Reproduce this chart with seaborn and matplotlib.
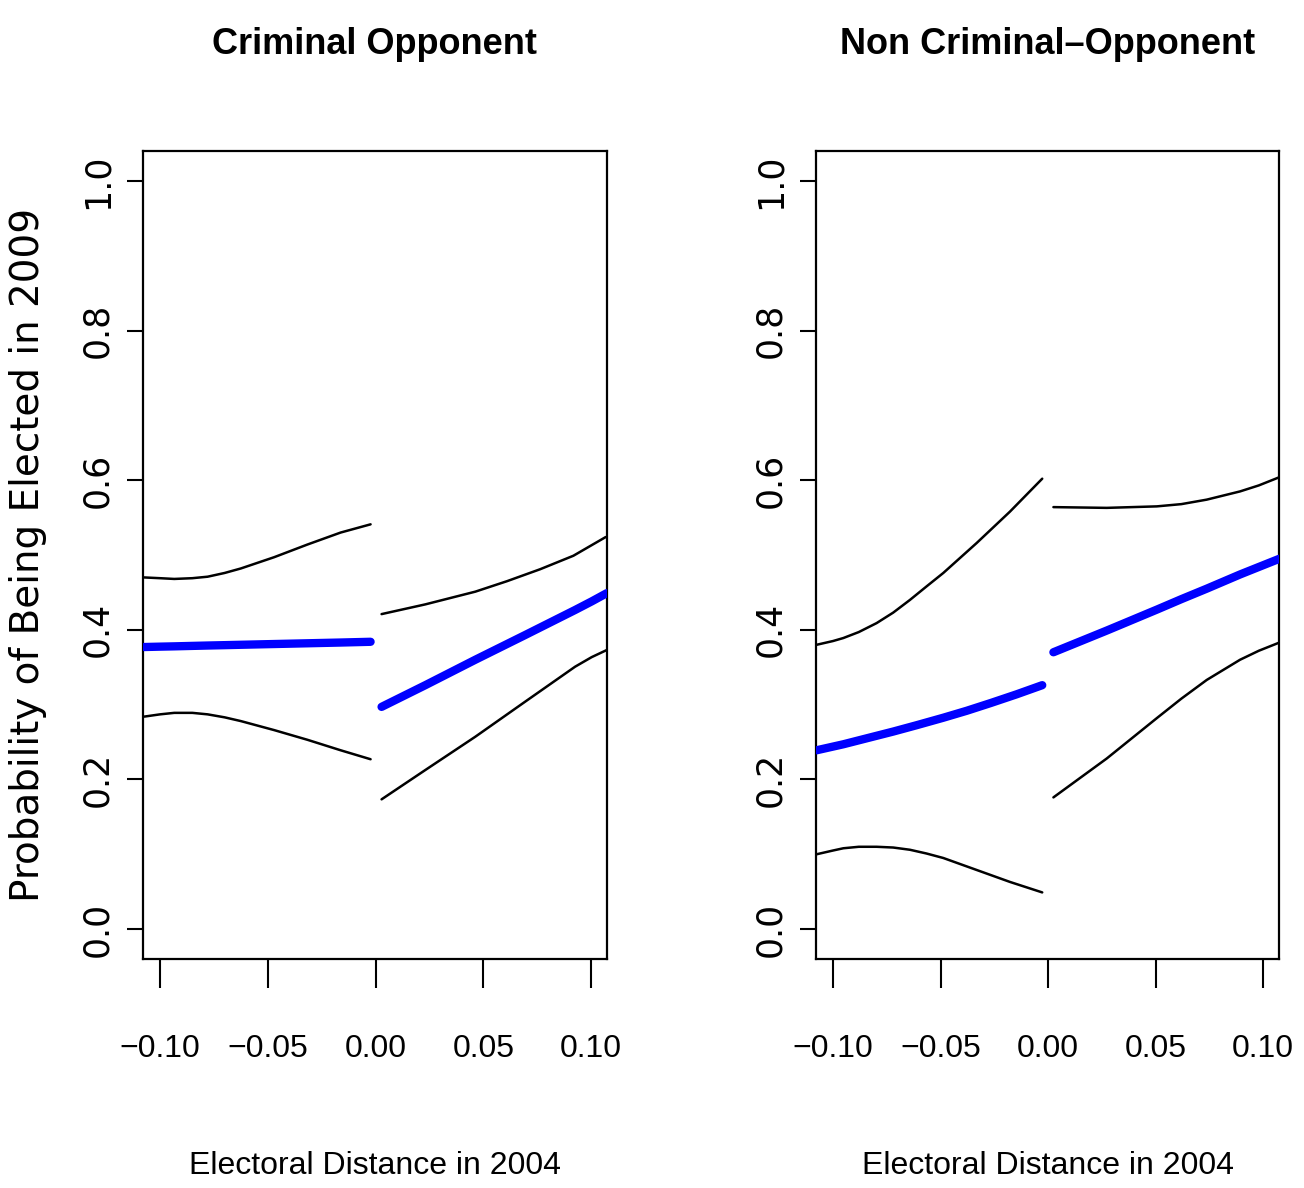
import numpy as np
import pandas as pd
import matplotlib as mpl
import matplotlib.pyplot as plt
import seaborn as sns

# ---- values ----
# Criminal opponent, left of the threshold
crim_x_below = [-0.1073, -0.1000, -0.0934, -0.0850, -0.0779, -0.0700,
                -0.0625, -0.0471, -0.0316, -0.0162, -0.0023]
crim_fit_below = [0.3770, 0.3775, 0.3779, 0.3785, 0.3790, 0.3795,
                  0.3800, 0.3810, 0.3820, 0.3830, 0.3840]
crim_hi_below = [0.470, 0.469, 0.468, 0.469, 0.471, 0.476,
                 0.482, 0.497, 0.514, 0.530, 0.541]
crim_lo_below = [0.284, 0.287, 0.289, 0.289, 0.287, 0.283,
                 0.278, 0.266, 0.253, 0.239, 0.227]
# Criminal opponent, right of the threshold
crim_x_above = [0.0028, 0.0231, 0.0463, 0.0694, 0.0926, 0.1003, 0.1073]
crim_fit_above = [0.297, 0.326, 0.360, 0.393, 0.4265, 0.438, 0.449]
crim_lo_above = [0.1734, 0.2126, 0.2571, 0.3039, 0.3507, 0.3635, 0.3730]
crim_x_above_hi = [0.0028, 0.0231, 0.0463, 0.0610, 0.0764, 0.0918, 0.1068]
crim_hi_above = [0.421, 0.434, 0.451, 0.465, 0.481, 0.499, 0.524]

# Non criminal opponent, left of the threshold
nc_x_below = [-0.1076, -0.1000, -0.0952, -0.0880, -0.0797, -0.0720,
              -0.0642, -0.0565, -0.0487, -0.0332, -0.0177, -0.0027]
nc_hi_below = [0.380, 0.385, 0.389, 0.397, 0.409, 0.423,
               0.440, 0.458, 0.476, 0.516, 0.558, 0.602]
nc_lo_below = [0.100, 0.105, 0.108, 0.110, 0.110, 0.109,
               0.106, 0.101, 0.095, 0.079, 0.063, 0.049]
nc_x_below_fit = [-0.1076, -0.0952, -0.0843, -0.0720, -0.0611,
                  -0.0487, -0.0378, -0.0266, -0.0146, -0.0027]
nc_fit_below = [0.239, 0.247, 0.255, 0.264, 0.2725,
                0.2825, 0.2918, 0.3022, 0.3138, 0.326]
# Non criminal opponent, right of the threshold
nc_x_above = [0.0025, 0.0273, 0.0506, 0.0620, 0.0738, 0.0893, 0.0980, 0.1076]
nc_fit_above = [0.370, 0.399, 0.427, 0.441, 0.455, 0.474, 0.484, 0.495]
nc_hi_above = [0.564, 0.563, 0.565, 0.568, 0.574, 0.585, 0.593, 0.604]
nc_lo_above = [0.176, 0.228, 0.282, 0.308, 0.333, 0.360, 0.372, 0.383]

titles = ["Criminal Opponent", "Non Criminal\u2013Opponent"]
x_ticks = [-0.10, -0.05, 0.00, 0.05, 0.10]
x_ticklabels = ["\u22120.10", "\u22120.05", "0.00", "0.05", "0.10"]
y_ticks = [0.0, 0.2, 0.4, 0.6, 0.8, 1.0]
y_ticklabels = ["0.0", "0.2", "0.4", "0.6", "0.8", "1.0"]

sns.set_theme(style="ticks")
narrow = ['Liberation Sans', 'DejaVu Sans']
wide = ['DejaVu Sans']
plt.rcParams['font.family'] = narrow
for key in ["text.color", "axes.labelcolor", "xtick.color", "ytick.color"]:
    plt.rcParams[key] = "black"

fig = plt.figure(figsize=(13.04, 11.88), dpi=100)
W, H = 1304, 1188
ax1 = fig.add_axes([143 / W, 1 - 959 / H, 464 / W, 808 / H])
ax2 = fig.add_axes([816 / W, 1 - 959 / H, 463 / W, 808 / H])

# (x, y, is_fit) for every curve of each panel
panels = [
    (ax1, titles[0], [(crim_x_below, crim_hi_below, False),
                      (crim_x_below, crim_lo_below, False),
                      (crim_x_below, crim_fit_below, True),
                      (crim_x_above_hi, crim_hi_above, False),
                      (crim_x_above, crim_lo_above, False),
                      (crim_x_above, crim_fit_above, True)]),
    (ax2, titles[1], [(nc_x_below, nc_hi_below, False),
                      (nc_x_below, nc_lo_below, False),
                      (nc_x_below_fit, nc_fit_below, True),
                      (nc_x_above, nc_hi_above, False),
                      (nc_x_above, nc_lo_above, False),
                      (nc_x_above, nc_fit_above, True)]),
]

for ax, title, curves in panels:
    for xs, ys, is_fit in curves:
        if is_fit:
            sns.lineplot(x=xs, y=ys, ax=ax, color="#0000ff", lw=6,
                         sort=False, solid_capstyle="round", zorder=3)
        else:
            sns.lineplot(x=xs, y=ys, ax=ax, color="black", lw=1.8, sort=False)

    ax.set_xlim(-0.1079, 0.1074)
    ax.set_ylim(-0.04, 1.04)
    ax.set_xticks(x_ticks)
    ax.set_xticklabels(x_ticklabels, fontsize=23, family=narrow)
    ax.set_yticks(y_ticks)
    ax.set_yticklabels(y_ticklabels, fontsize=25, family=wide,
                       rotation=90, va="center")
    ax.tick_params(axis="x", direction="out", length=21, width=1.5,
                   pad=33, colors="black")
    ax.tick_params(axis="y", direction="out", length=11.5, width=1.5,
                   pad=9, colors="black")
    for sp in ax.spines.values():
        sp.set_visible(True)
        sp.set_color("black")
        sp.set_linewidth(1.6)

    ax.set_title(title, fontsize=26, fontweight="bold", family=narrow, pad=70)
    ax.set_xlabel("Electoral Distance in 2004", fontsize=23, family=narrow)
    ax.xaxis.set_label_coords(0.5, -0.238)
    ax.set_ylabel("")

ax1.set_ylabel("Probability of Being Elected in 2009", fontsize=28, family=wide)
ax1.yaxis.set_label_coords(-0.206, 0.5)

fig.savefig("out.png", dpi=100, facecolor="white")
